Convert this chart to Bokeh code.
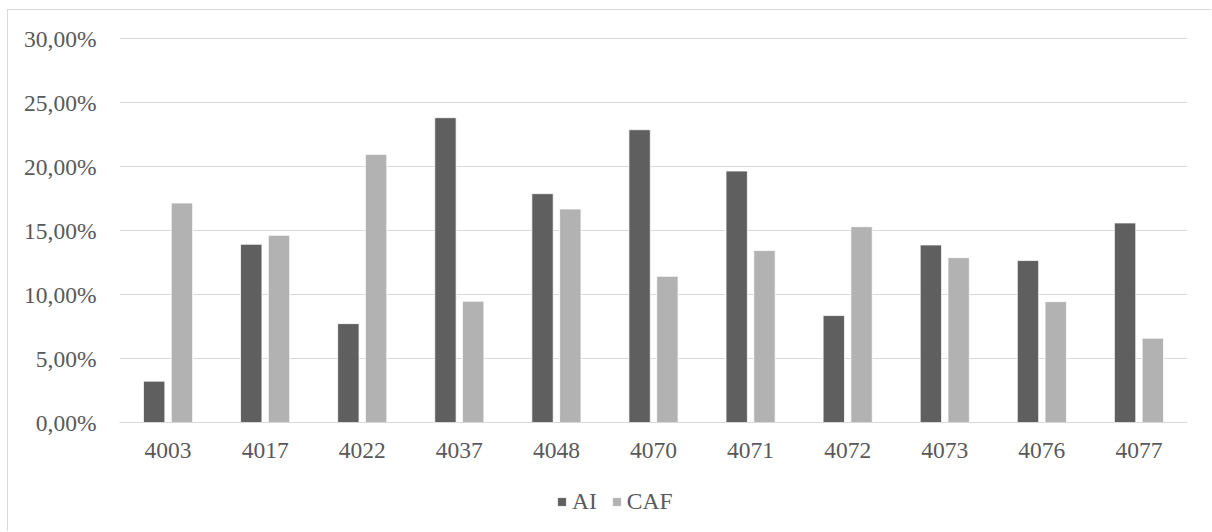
from bokeh.plotting import figure
from bokeh.models import ColumnDataSource, FactorRange, FixedTicker, CustomJSTickFormatter, Legend, LegendItem, Range1d, Spacer
from bokeh.layouts import column, row
from bokeh.transform import dodge
from bokeh.embed import file_html
from bokeh.resources import INLINE

categories = ["4003", "4017", "4022", "4037", "4048", "4070", "4071", "4072", "4073", "4076", "4077"]
ai_values = [3.23, 13.93, 7.73, 23.83, 17.89, 22.89, 19.66, 8.36, 13.88, 12.66, 15.60]
caf_values = [17.16, 14.63, 20.96, 9.48, 16.69, 11.43, 13.44, 15.31, 12.89, 9.45, 6.59]
y_ticks = [0, 5, 10, 15, 20, 25, 30]
series_names = ["AI", "CAF"]
series_colors = ["#5f5f5f", "#b2b2b2"]

src = ColumnDataSource(dict(cat=categories, ai=ai_values, caf=caf_values))

FONT = "Liberation Serif"
TXT = "#595959"
BORDER = "1px solid #d9d9d9"

p = figure(width=1204, height=465, x_range=FactorRange(*categories, range_padding=0),
           y_range=Range1d(0, 30.1), output_backend="svg", toolbar_location=None,
           min_border_left=111, min_border_right=25, min_border_top=27, min_border_bottom=53)
p.styles = {"border-left": BORDER, "border-top": BORDER}
p.outline_line_color = None

p.vbar(x=dodge("cat", -0.143, range=p.x_range), top="ai", width=0.22, source=src,
       fill_color=series_colors[0], line_color="white", line_width=0.75)
p.vbar(x=dodge("cat", 0.143, range=p.x_range), top="caf", width=0.22, source=src,
       fill_color=series_colors[1], line_color="white", line_width=0.75)

p.xgrid.grid_line_color = None
p.ygrid.grid_line_color = "#d9d9d9"
p.ygrid.grid_line_width = 1

p.yaxis.ticker = FixedTicker(ticks=y_ticks)
p.yaxis.formatter = CustomJSTickFormatter(code="return tick.toFixed(2).replace('.', ',') + '%';")
p.yaxis.axis_line_color = None
p.yaxis.major_label_standoff = 23

p.xaxis.axis_line_color = "#d9d9d9"
p.xaxis.major_label_standoff = 20

for ax in (p.xaxis, p.yaxis):
    ax.major_tick_line_color = None
    ax.minor_tick_line_color = None
    ax.major_tick_out = 0
    ax.major_tick_in = 0
    ax.minor_tick_out = 0
    ax.major_label_text_font = FONT
    ax.major_label_text_font_size = "23.5px"
    ax.major_label_text_color = TXT

# legend strip (separate figure so the legend is not clipped by the main plot area)
p2 = figure(width=1204, height=57, x_range=Range1d(0, 1), y_range=Range1d(0, 1),
            output_backend="svg", toolbar_location=None,
            min_border_left=111, min_border_right=25, min_border_top=0, min_border_bottom=0)
p2.styles = {"border-left": BORDER}
p2.outline_line_color = None
p2.axis.visible = False
p2.grid.visible = False
# legend proxies: a bar with no height (NaN) so that only the legend swatch is drawn
proxy = ColumnDataSource(dict(x=[0.5], top=[float("nan")]))
lr = [p2.vbar(x="x", top="top", width=0.1, source=proxy, fill_color=c, line_color="white", line_width=0.75)
      for c in series_colors]

legend = Legend(items=[LegendItem(label=n, renderers=[r]) for n, r in zip(series_names, lr)],
                orientation="horizontal", location=(437, 16))
legend.glyph_width = 11
legend.glyph_height = 11
legend.label_standoff = 5
legend.spacing = 14
legend.padding = 0
legend.margin = 0
legend.border_line_color = None
legend.background_fill_alpha = 0
legend.label_text_font = FONT
legend.label_text_font_size = "23.5px"
legend.label_text_color = TXT
p2.add_layout(legend, "center")

layout = column(Spacer(height=9), row(Spacer(width=7), column(p, p2, spacing=0), spacing=0), spacing=0)

open("out.html", "w").write(file_html(layout, INLINE))
